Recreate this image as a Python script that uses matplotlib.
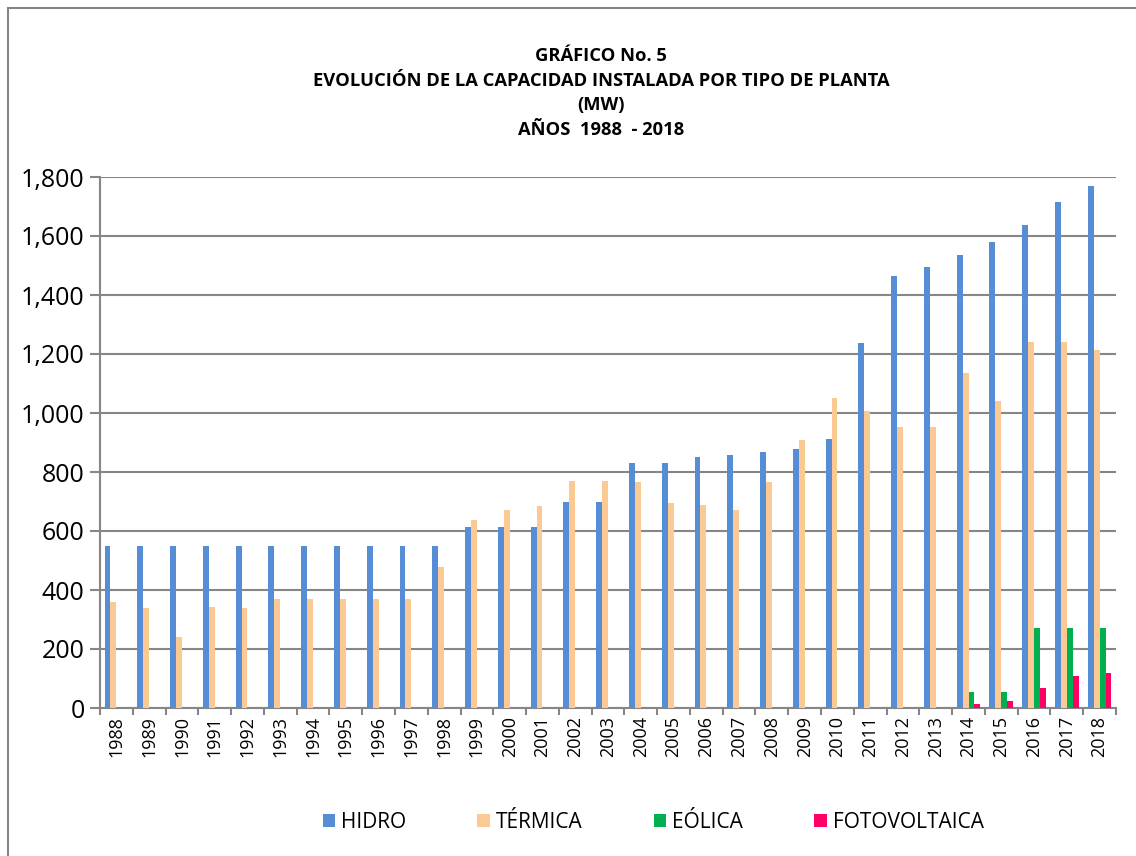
import matplotlib.pyplot as plt
import matplotlib.patches as mpatches
import numpy as np

plt.rcParams['font.family'] = ['Open Sans', 'DejaVu Sans']

years = list(range(1988, 2019))
hidro = [550, 550, 550, 550, 550, 550, 550, 550, 550, 550, 550,
         612, 612, 615, 700, 700, 831, 831, 851, 858, 868, 879, 913,
         1237, 1465, 1494, 1537, 1579, 1636, 1715, 1770]
termica = [358, 339, 239, 341, 340, 370, 369, 368, 370, 370, 477,
           637, 670, 685, 770, 770, 767, 695, 687, 671, 767, 908, 1052,
           1006, 953, 953, 1137, 1039, 1239, 1239, 1215]
eolica = [0] * 26 + [53, 53, 271, 271, 271]
foto = [0] * 26 + [12, 23, 69, 107, 117]

series = [('HIDRO', hidro, '#558ED5'),
          ('TÉRMICA', termica, '#FCC893'),
          ('EÓLICA', eolica, '#00B050'),
          ('FOTOVOLTAICA', foto, '#FF0066')]

fig = plt.figure(figsize=(11.36, 8.56), dpi=100)
ax = fig.add_axes([100 / 1136, 1 - 708 / 856, 1016 / 1136, 531 / 856])

x = np.arange(len(years))
w = 0.18
for i, (name, vals, col) in enumerate(series):
    ax.bar(x + (i - 1.5) * w, vals, width=w, color=col, label=name, zorder=3)

ax.set_xlim(-0.5, len(years) - 0.5)
ax.set_ylim(0, 1800)
ax.set_yticks(np.arange(0, 1801, 200))
ax.set_yticklabels([f'{v:,}' for v in range(0, 1801, 200)], fontsize=18)
ax.set_xticks(x)
ax.set_xticklabels([str(y) for y in years], rotation=90, fontsize=13)
ax.set_xticks(np.arange(-0.5, len(years)), minor=True)
ax.tick_params(axis='x', which='major', length=0, pad=6)
ax.tick_params(axis='x', which='minor', length=5, color='#868686', width=1.5)
ax.tick_params(axis='y', length=7, color='#868686', width=1.5, pad=4)
ax.grid(axis='y', color='#868686', linewidth=1.5, zorder=0)
for s in ['top', 'right']:
    ax.spines[s].set_visible(False)
for s in ['left', 'bottom']:
    ax.spines[s].set_color('#868686')
    ax.spines[s].set_linewidth(1.5)

title = ('GRÁFICO No. 5\nEVOLUCIÓN DE LA CAPACIDAD INSTALADA POR TIPO DE PLANTA\n'
         '(MW)\nAÑOS  1988  - 2018')
fig.text(601 / 1136, 1 - 47 / 856, title, ha='center', va='top', fontsize=13.2,
         fontweight='bold', linespacing=1.47)

fig.legend(loc='center', bbox_to_anchor=(0.575, 1 - 822 / 856), ncol=4,
           frameon=False, fontsize=15, handlelength=0.6, handleheight=0.6,
           columnspacing=3.4, handletextpad=0.3)

fig.patches.append(mpatches.Rectangle((8 / 1136, -0.01), 1.1, 1 - 8 / 856 + 0.01,
                                      transform=fig.transFigure, fill=False,
                                      edgecolor='#868686', linewidth=1.5))

fig.savefig('out.png', dpi=100)
